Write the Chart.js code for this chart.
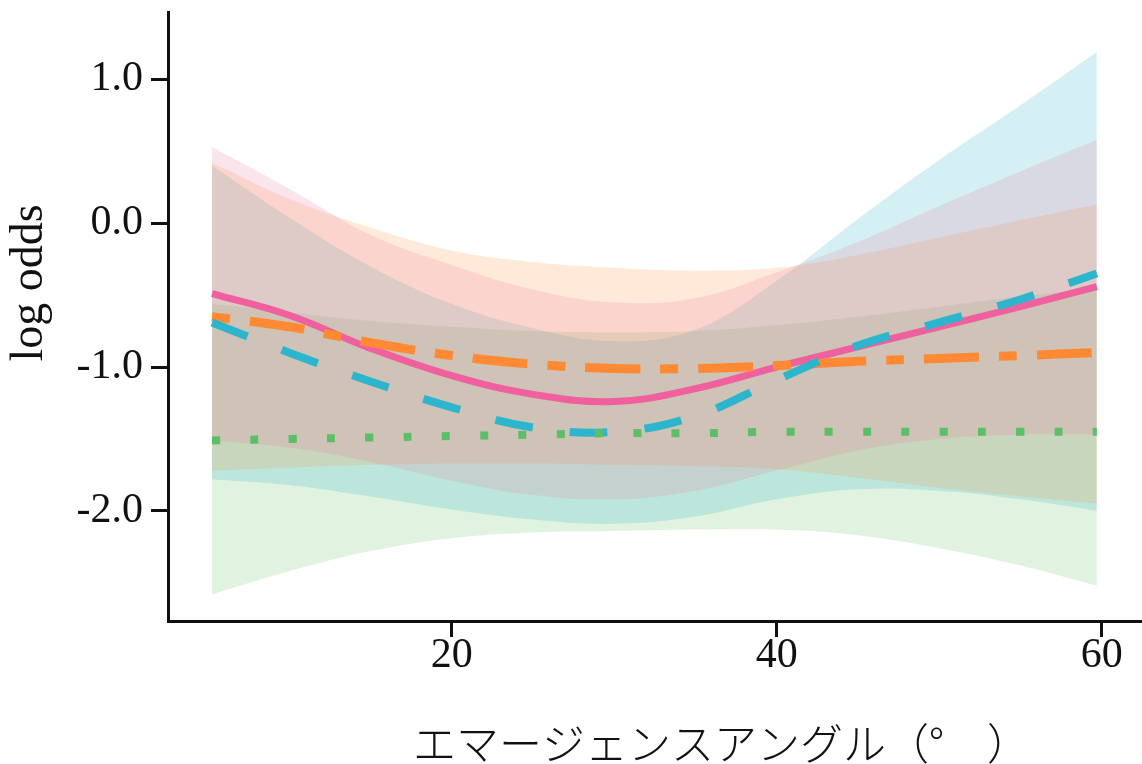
<!DOCTYPE html>
<html>
<head>
<meta charset="utf-8">
<script src="https://cdn.jsdelivr.net/npm/chart.js@4.4.1/dist/chart.umd.min.js"></script>
<style>
html, body { margin: 0; padding: 0; background: #fff; }
#wrap { width: 1142px; height: 764px; }
</style>
</head>
<body>
<div id="wrap"><canvas id="chart" width="1142" height="764"></canvas></div>
<script>
// emergence angle (deg)
const angles = [5.25, 10, 15, 20, 25, 30, 35, 40, 45, 50, 55, 59.7];

// fitted log odds per group
const pinkFit   = [-0.49, -0.64, -0.87, -1.06, -1.19, -1.24, -1.15, -1.00, -0.86, -0.72, -0.58, -0.44];
const orangeFit = [-0.65, -0.72, -0.83, -0.92, -0.98, -1.01, -1.01, -0.99, -0.96, -0.94, -0.92, -0.90];
const cyanFit   = [-0.69, -0.90, -1.10, -1.28, -1.42, -1.45, -1.34, -1.09, -0.85, -0.69, -0.53, -0.35];
const greenFit  = [-1.51, -1.50, -1.49, -1.48, -1.47, -1.46, -1.46, -1.45, -1.45, -1.45, -1.45, -1.45];

// confidence bands
const pinkHi   = [0.53, 0.24, -0.08, -0.29, -0.46, -0.55, -0.52, -0.34, -0.13, 0.12, 0.36, 0.58];
const pinkLo   = [-1.51, -1.56, -1.66, -1.79, -1.89, -1.92, -1.86, -1.72, -1.58, -1.50, -1.47, -1.47];
const orangeHi = [0.42, 0.17, -0.03, -0.19, -0.27, -0.31, -0.33, -0.31, -0.22, -0.10, 0.02, 0.13];
const orangeLo = [-1.72, -1.70, -1.68, -1.67, -1.67, -1.68, -1.69, -1.71, -1.77, -1.84, -1.90, -1.95];
const cyanHi   = [0.40, 0.04, -0.30, -0.56, -0.73, -0.82, -0.74, -0.40, 0.03, 0.44, 0.82, 1.19];
const cyanLo   = [-1.78, -1.82, -1.90, -1.99, -2.06, -2.09, -2.04, -1.92, -1.85, -1.86, -1.92, -2.00];
const greenHi  = [-0.56, -0.62, -0.68, -0.72, -0.75, -0.76, -0.75, -0.71, -0.65, -0.58, -0.51, -0.45];
const greenLo  = [-2.58, -2.42, -2.28, -2.19, -2.15, -2.14, -2.13, -2.13, -2.17, -2.26, -2.38, -2.52];

const xTicks = [20, 40, 60];
const yTicks = [1.0, 0.0, -1.0, -2.0];
const xTitle = 'エマージェンスアングル（°　）';
const yTitle = 'log odds';

function pts(arr) {
	return angles.map((a, i) => ({x: a, y: arr[i]}));
}

function band(hi, lo, color, order) {
	return [
		{data: pts(hi), fill: '+1', backgroundColor: color, borderWidth: 0, pointRadius: 0, order: order},
		{data: pts(lo), fill: false, borderWidth: 0, pointRadius: 0, order: order}
	];
}

function fitLine(arr, color, width, dash, order) {
	return {data: pts(arr), fill: false, borderColor: color, borderWidth: width,
		borderDash: dash, borderCapStyle: 'butt', pointRadius: 0, order: order};
}

const datasets = [
	...band(greenHi, greenLo, 'rgba(100, 190, 100, 0.2)', 9),
	...band(cyanHi, cyanLo, 'rgba(40, 180, 200, 0.2)', 8),
	...band(orangeHi, orangeLo, 'rgba(255, 140, 50, 0.18)', 7),
	...band(pinkHi, pinkLo, 'rgba(235, 110, 150, 0.18)', 6),
	fitLine(pinkFit, '#f0609e', 7, [], 4),
	fitLine(orangeFit, '#ff8a33', 9, [18, 20, 55, 20], 3),
	fitLine(cyanFit, '#2cb5cc', 8, [38, 37], 2),
	fitLine(greenFit, '#5dbe68', 8, [8, 30.3], 1)
];

// axis titles sit off-centre in the original, so draw them by hand
const axisTitles = {
	id: 'axisTitles',
	afterDraw(chart) {
		const ctx = chart.ctx;
		ctx.save();
		ctx.fillStyle = '#111';
		ctx.textAlign = 'left';
		ctx.textBaseline = 'middle';
		ctx.font = '300 43px "Noto Sans CJK JP"';
		ctx.fillText(xTitle, 413, 744);
		ctx.textAlign = 'center';
		ctx.translate(30, 283);
		ctx.rotate(-Math.PI / 2);
		ctx.font = '46px "Liberation Serif"';
		ctx.fillText(yTitle, 0, 0);
		ctx.restore();
	}
};

const tickFont = {family: '"Liberation Serif", "DejaVu Serif", serif', size: 42};

const config = {
	type: 'line',
	data: {datasets: datasets},
	options: {
		responsive: false,
		devicePixelRatio: 1,
		animation: false,
		layout: {padding: {top: 12, right: 0, left: 0, bottom: 0}},
		elements: {line: {tension: 0.4}},
		plugins: {
			legend: {display: false},
			tooltip: {enabled: false}
		},
		scales: {
			x: {
				type: 'linear',
				min: 2.54,
				max: 62.48,
				afterBuildTicks: axis => { axis.ticks = xTicks.map(v => ({value: v})); },
				afterFit: axis => { axis.height = 143; axis.paddingLeft = 0; axis.paddingRight = 0; },
				grid: {drawOnChartArea: false, drawTicks: true, tickLength: 16, tickWidth: 3, tickColor: '#111'},
				border: {display: true, width: 3, color: '#111'},
				ticks: {font: tickFont, color: '#111', padding: -6, maxRotation: 0}
			},
			y: {
				type: 'linear',
				min: -2.766,
				max: 1.469,
				afterBuildTicks: axis => { axis.ticks = yTicks.map(v => ({value: v})); },
				afterFit: axis => { axis.width = 168; axis.paddingTop = 0; axis.paddingBottom = 0; },
				grid: {drawOnChartArea: false, drawTicks: true, tickLength: 17, tickWidth: 3, tickColor: '#111'},
				border: {display: true, width: 3, color: '#111'},
				ticks: {font: tickFont, color: '#111', padding: 8, callback: v => v.toFixed(1)}
			}
		}
	},
	plugins: [axisTitles]
};

new Chart(document.getElementById('chart'), config);
</script>
</body>
</html>
